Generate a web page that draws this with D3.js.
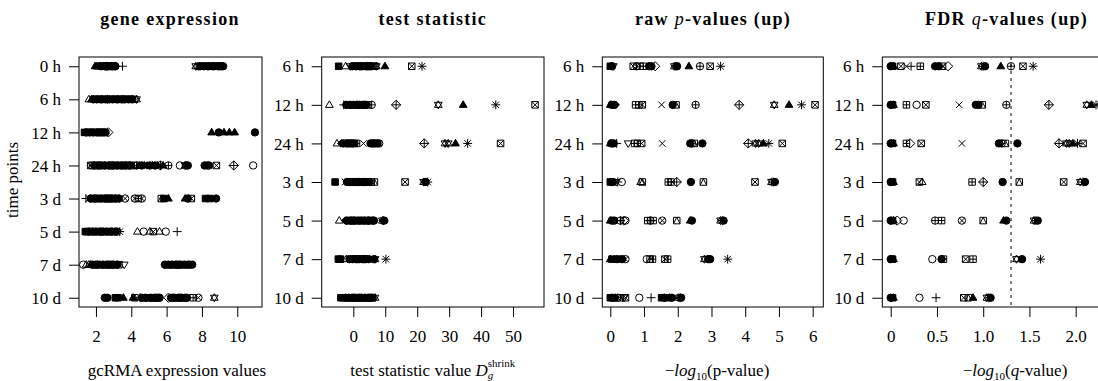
<!DOCTYPE html>
<html>
<head>
<meta charset="utf-8">
<script src="https://cdn.jsdelivr.net/npm/d3@7"></script>
<style>
  body { margin: 0; background: #fff; }
  svg { display: block; }
  text { font-family: "Liberation Serif", "Times New Roman", serif; fill: #000; }
</style>
</head>
<body>
<svg id="chart" width="1098" height="381"></svg>
<script>
// ---- time point labels ----
const timesAll = ["0 h", "6 h", "12 h", "24 h", "3 d", "5 d", "7 d", "10 d"];
const timesCmp = ["6 h", "12 h", "24 h", "3 d", "5 d", "7 d", "10 d"];

// ---- values per time point: [value, plotting symbol (R pch code)] ----
const exprValues = [
  [[1.95,17],[2.05,17],[2.15,2],[2.2,17],[2.3,16],[2.35,15],[2.45,18],[2.5,16],[2.55,19],[2.6,8],[2.65,16],[2.7,11],[2.75,15],[2.8,16],[2.85,18],[2.9,13],[2.95,16],[3.0,7],[3.05,16],[3.1,16],[3.5,3],
   [7.65,11],[7.8,13],[7.9,16],[8.0,15],[8.1,16],[8.2,18],[8.3,16],[8.4,19],[8.5,15],[8.6,16],[8.7,16],[8.8,18],[8.9,16],[9.0,16],[9.1,16],[9.2,16]],
  [[1.6,2],[1.75,17],[1.85,16],[1.95,15],[2.05,16],[2.15,18],[2.25,16],[2.35,19],[2.45,15],[2.55,16],[2.65,8],[2.75,16],[2.85,15],[2.95,16],[3.05,18],[3.15,16],[3.25,16],[3.35,15],[3.45,16],[3.55,13],[3.65,16],[3.75,18],[3.85,16],[3.95,12],[4.05,16],[4.15,7],[4.3,11]],
  [[1.35,15],[1.45,16],[1.55,15],[1.65,16],[1.75,18],[1.85,16],[1.95,15],[2.05,16],[2.15,16],[2.25,19],[2.35,16],[2.45,16],[2.55,16],[2.7,5],
   [8.55,17],[8.95,16],[9.25,17],[9.55,17],[9.85,17],[11.0,16]],
  [[1.7,7],[1.8,12],[1.9,16],[2.0,15],[2.1,16],[2.2,13],[2.3,16],[2.4,18],[2.5,16],[2.6,15],[2.7,8],[2.8,16],[2.9,16],[3.0,19],[3.1,15],[3.2,16],[3.3,18],[3.4,16],[3.5,16],[3.6,11],[3.7,16],[3.8,15],[3.9,16],[4.0,14],[4.15,12],[4.3,10],[4.45,17],[4.6,16],[4.75,17],[4.9,18],[5.05,16],[5.2,17],[5.35,16],[5.5,17],[5.65,9],[5.8,17],[6.1,10],
   [6.75,1],[7.05,11],[7.1,13],[7.2,16],[8.15,16],[8.3,10],[8.4,16],[8.82,7],[9.8,9],[10.9,1]],
  [[1.43,3],[1.6,4],[1.7,16],[1.8,15],[1.9,16],[2.0,8],[2.1,16],[2.2,18],[2.3,16],[2.4,15],[2.5,16],[2.6,19],[2.7,16],[2.8,13],[2.9,16],[3.0,15],[3.1,16],[3.2,7],[3.3,16],[3.65,13],
   [4.2,13],[4.4,12],[4.6,13],[5.7,14],[5.85,15],[6.1,17],[7.05,17],[7.2,16],[7.4,7],[8.2,15],[8.45,15],[8.8,16]],
  [[1.4,15],[1.5,22],[1.6,16],[1.7,15],[1.8,16],[1.9,18],[2.0,16],[2.1,15],[2.2,16],[2.3,19],[2.4,16],[2.5,15],[2.6,16],[2.7,18],[2.8,16],[2.9,16],[3.0,15],[3.1,16],[3.2,13],[3.35,8],
   [4.35,2],[4.7,1],[5.05,2],[5.25,7],[5.6,2],[5.95,1],[6.6,3]],
  [[1.28,1],[1.45,2],[1.6,2],[1.7,17],[1.8,16],[1.9,15],[2.0,16],[2.1,8],[2.2,16],[2.3,18],[2.4,16],[2.5,15],[2.6,16],[2.7,19],[2.8,16],[2.9,13],[3.0,16],[3.1,15],[3.2,16],[3.3,7],[3.6,6],
   [5.9,16],[6.0,15],[6.1,16],[6.2,18],[6.3,16],[6.4,15],[6.5,16],[6.6,19],[6.7,16],[6.8,16],[6.9,15],[7.0,16],[7.1,18],[7.2,16],[7.3,16],[7.45,16]],
  [[2.5,16],[2.65,16],[3.1,15],[3.25,15],[3.55,17],[4.1,17],[4.2,14],[4.5,3],[4.6,16],[4.7,15],[4.8,16],[4.9,18],[5.0,12],[5.1,16],[5.2,15],[5.3,16],[5.4,13],[5.5,16],[5.6,16],
   [6.1,5],[6.25,16],[6.35,13],[6.45,16],[6.55,15],[6.65,16],[6.75,13],[6.85,16],[6.95,12],[7.05,13],[7.15,16],[7.5,12],[7.8,13],[8.7,11]]
];

const statValues = [
  [[-4.6,15],[-2.4,2],[-1.0,6],[-0.3,16],[0.3,15],[0.8,16],[1.3,18],[1.8,16],[2.3,13],[2.8,16],[3.3,15],[3.8,16],[4.3,8],[4.8,16],[5.3,19],[5.8,11],[6.3,7],[6.8,12],[7.2,11],[9.9,17],[18.3,7],[21.5,8]],
  [[-7.5,2],[-3.0,3],[-2.2,16],[-1.6,15],[-1.0,16],[-0.5,18],[0,16],[0.5,15],[1,16],[1.5,19],[2,16],[2.5,15],[3,16],[3.5,13],[4,16],[4.5,12],[5.75,10],[13.4,9],[26.6,11],[34.4,17],[44.6,8],[56.9,7]],
  [[-5.1,2],[-3.8,18],[-3.2,16],[-2.6,15],[-2.0,16],[-1.4,16],[-0.8,19],[-0.2,16],[0.4,15],[1.0,12],[3.2,4],[5.4,16],[6.0,10],[6.5,16],[7.0,16],[7.6,16],[8.1,13],[22.2,9],[28.7,11],[29.7,11],[32.0,17],[35.8,8],[46.1,7]],
  [[-5.7,15],[-2.6,4],[-2.0,16],[-1.5,11],[-1.0,16],[-0.5,15],[0,16],[0.5,18],[1,16],[1.5,19],[2,16],[2.5,15],[3,16],[3.5,13],[4,16],[4.5,12],[5,16],[5.6,14],[6.6,14],[16.2,7],[22.0,11],[22.6,16],[23.3,8]],
  [[-4.4,2],[-2.5,18],[-2.0,16],[-1.5,15],[-1.0,16],[-0.5,16],[0,19],[0.5,16],[1,15],[1.5,16],[2,18],[2.5,16],[3,15],[3.5,16],[4,12],[4.5,16],[5,13],[5.5,15],[6,16],[6.5,16],[9.1,11],[9.4,8],[9.7,16]],
  [[-4.7,15],[-4.0,15],[-2.2,2],[-1.2,16],[-0.7,15],[-0.2,16],[0.3,18],[0.8,16],[1.3,19],[1.8,16],[2.3,15],[2.8,16],[3.3,13],[3.8,16],[4.3,12],[4.7,16],[6.5,16],[6.8,11],[10.2,8]],
  [[-3.9,15],[-3.3,15],[-2.4,16],[-1.9,18],[-1.4,16],[-0.9,15],[-0.4,16],[0.1,19],[0.6,16],[1.1,15],[1.6,16],[2.1,13],[2.6,16],[3.1,15],[3.6,16],[4.1,12],[4.6,16],[5.1,13],[5.6,16],[6.0,16],[6.8,11]]
];

const pValues = [
  [[0,15],[0.02,17],[0.05,16],[0.09,6],[0.68,7],[0.78,13],[0.88,12],[0.98,12],[1.15,16],[1.22,16],[1.33,5],[1.9,11],[1.95,8],[1.98,16],[2.33,17],[2.66,10],[2.96,7],[3.27,8]],
  [[0,17],[0.04,16],[0.08,18],[0.12,16],[0.16,18],[0.75,12],[0.85,12],[0.95,7],[1.52,4],[1.85,16],[1.95,14],[2.53,10],[3.82,9],[4.86,11],[5.3,17],[5.67,8],[6.07,7]],
  [[0,17],[0.03,16],[0.06,18],[0.1,16],[0.19,3],[0.53,6],[0.72,12],[0.8,12],[0.93,7],[1.54,4],[2.37,16],[2.42,10],[2.49,14],[2.73,16],[4.09,9],[4.31,11],[4.4,11],[4.54,17],[4.7,8],[5.1,7]],
  [[0,15],[0.04,16],[0.08,16],[0.18,6],[0.22,3],[0.34,1],[0.9,2],[0.95,14],[1.72,12],[1.8,12],[1.97,9],[2.39,16],[2.76,14],[4.29,7],[4.78,11],[4.83,8],[4.88,16]],
  [[0,17],[0.04,16],[0.08,18],[0.12,16],[0.3,10],[0.3,3],[0.4,5],[0.45,1],[1.11,12],[1.19,10],[1.27,12],[1.54,13],[1.97,14],[2.37,17],[2.42,16],[3.27,11],[3.32,8],[3.36,16]],
  [[0,17],[0.05,15],[0.12,18],[0.2,16],[0.28,18],[0.35,16],[0.45,13],[1.08,1],[1.18,14],[1.25,12],[1.62,7],[1.7,12],[2.79,11],[2.9,16],[2.96,16],[3.48,8]],
  [[0,15],[0.04,16],[0.08,18],[0.14,16],[0.22,13],[0.3,12],[0.41,6],[0.45,7],[0.86,1],[1.21,3],[1.52,15],[1.6,16],[1.68,7],[1.75,17],[1.82,16],[2.02,11],[2.07,8],[2.1,16]]
];

const qValues = [
  [[0,16],[0.01,18],[0.02,15],[0.03,17],[0.11,7],[0.17,4],[0.22,3],[0.32,12],[0.48,16],[0.52,16],[0.56,7],[0.62,5],[0.98,11],[1.0,8],[1.02,16],[1.19,17],[1.3,10],[1.43,7],[1.54,8]],
  [[0,16],[0.01,18],[0.02,15],[0.03,17],[0.17,12],[0.28,1],[0.38,7],[0.74,4],[0.92,16],[0.95,16],[0.99,14],[1.25,10],[1.71,9],[2.12,11],[2.17,17],[2.22,8],[2.27,8],[2.45,7]],
  [[0,16],[0.01,18],[0.02,15],[0.03,17],[0.17,12],[0.21,5],[0.33,7],[0.77,4],[1.17,16],[1.2,10],[1.24,14],[1.37,16],[1.82,9],[1.9,11],[1.93,11],[1.97,17],[2.02,8],[2.08,7]],
  [[0,16],[0.01,18],[0.02,15],[0.03,17],[0.31,7],[0.34,2],[0.88,12],[1.0,9],[1.21,16],[1.39,14],[1.87,7],[2.05,11],[2.08,8],[2.1,16]],
  [[0,16],[0.01,18],[0.02,15],[0.03,17],[0.07,5],[0.14,1],[0.48,10],[0.55,12],[0.77,13],[1.0,14],[1.22,17],[1.25,16],[1.55,11],[1.57,8],[1.59,16]],
  [[0,16],[0.01,18],[0.02,15],[0.03,17],[0.45,1],[0.55,16],[0.57,12],[0.81,7],[0.89,12],[1.36,11],[1.42,16],[1.62,8]],
  [[0,16],[0.01,18],[0.02,15],[0.03,17],[0.31,1],[0.49,3],[0.79,7],[0.84,14],[0.89,17],[1.04,11],[1.06,8],[1.08,16]]
];

// ---- axis ticks ----
const exprTicks = [2, 4, 6, 8, 10];
const statTicks = [0, 10, 20, 30, 40, 50];
const pTicks = [0, 1, 2, 3, 4, 5, 6];
const qTicks = [0, 0.5, 1, 1.5, 2];
const qThreshold = 1.30103;   // -log10(0.05)

// ---- layout ----
const TOP = 57, BOTTOM = 307, R = 3.7;
const svg = d3.select("#chart");

const panels = [
  { data: exprValues, labels: timesAll, ticks: exprTicks, fmt: d3.format("d"),
    domain: [1.04, 11.40], range: [79, 262], titleX: 170, xlabX: 177,
    title: [{ t: "gene expression" }],
    xlab: [{ t: "gcRMA expression values" }] },
  { data: statValues, labels: timesCmp, ticks: statTicks, fmt: d3.format("d"),
    domain: [-9.9, 59.7], range: [321.7, 544], titleX: 432.8, xlabX: 432.8,
    title: [{ t: "test statistic" }],
    xlab: [{ t: "test statistic value " }, { t: "D", it: true },
           { t: "g", it: true, size: 11, dy: 3 }, { t: "shrink", size: 11, dx: -5.5, dy: -12 }] },
  { data: pValues, labels: timesCmp, ticks: pTicks, fmt: d3.format("d"),
    domain: [-0.237, 6.315], range: [602.3, 823.3], titleX: 713, xlabX: 717,
    title: [{ t: "raw " }, { t: "p", it: true, light: true }, { t: "-values (up)" }],
    xlab: [{ t: "\u2212" }, { t: "log", it: true }, { t: "10", size: 11, dy: 4 }, { t: "(p-value)", dy: -4 }] },
  { data: qValues, labels: timesCmp, ticks: qTicks, fmt: d => d === 0 ? "0" : d3.format(".1f")(d),
    domain: [-0.091, 2.598], range: [882.3, 1131], titleX: 1006.5, xlabX: 1015,
    title: [{ t: "FDR " }, { t: "q", it: true, light: true }, { t: "-values (up)" }],
    xlab: [{ t: "\u2212" }, { t: "log", it: true }, { t: "10", size: 11, dy: 4 }, { t: "(" , dy: -4 }, { t: "q", it: true }, { t: "-value)" }],
    threshold: qThreshold }
];

// R plotting symbols as path outlines centred on (0,0)
function pchShape(p, r) {
  const a = r * 0.88, t = r * 1.1, dd = r * 1.25, c = r * 0.707;
  const sq = `M${-a},${-a}H${a}V${a}H${-a}Z`;
  const circ = `M${r},0A${r},${r} 0 1,1 ${-r},0A${r},${r} 0 1,1 ${r},0Z`;
  const triU = `M0,${-t}L${t * 0.95},${t * 0.62}L${-t * 0.95},${t * 0.62}Z`;
  const triD = `M0,${t}L${t * 0.95},${-t * 0.62}L${-t * 0.95},${-t * 0.62}Z`;
  const dia = `M0,${-dd}L${dd},0L0,${dd}L${-dd},0Z`;
  const plusBig = `M${-r * 1.2},0H${r * 1.2}M0,${-r * 1.2}V${r * 1.2}`;
  const xBig = `M${-a},${-a}L${a},${a}M${-a},${a}L${a},${-a}`;
  switch (p) {
    case 0: return [sq, false];
    case 1: return [circ, false];
    case 2: return [triU, false];
    case 3: return [plusBig, false];
    case 4: return [xBig, false];
    case 5: return [dia, false];
    case 6: return [triD, false];
    case 7: return [sq + xBig, false];
    case 8: return [plusBig + xBig, false];
    case 9: return [dia + `M${-dd},0H${dd}M0,${-dd}V${dd}`, false];
    case 10: return [circ + `M${-r},0H${r}M0,${-r}V${r}`, false];
    case 11: return [triU + triD, false];
    case 12: return [sq + `M${-a},0H${a}M0,${-a}V${a}`, false];
    case 13: return [circ + `M${-c},${-c}L${c},${c}M${-c},${c}L${c},${-c}`, false];
    case 14: return [sq + `M${-a},${a}L0,${-a}L${a},${a}`, false];
    case 15: case 22: return [sq, true];
    case 16: case 19: case 21: return [circ, true];
    case 17: case 24: return [triU, true];
    case 18: return [`M0,${-r}L${r},0L0,${r}L${-r},0Z`, true];
    case 20: { const s = r * 0.65; return [`M${s},0A${s},${s} 0 1,1 ${-s},0A${s},${s} 0 1,1 ${s},0Z`, true]; }
    case 23: return [dia, true];
    case 25: return [triD, true];
  }
  return [circ, false];
}

// text built from styled pieces (italic, scripts)
function richText(parent, parts, x, y, opts) {
  const txt = parent.append("text")
    .attr("x", x).attr("y", y)
    .attr("text-anchor", "middle")
    .style("font-size", opts.size + "px")
    .style("font-weight", opts.bold ? "bold" : "normal");
  if (opts.spacing) txt.style("letter-spacing", opts.spacing + "px");
  parts.forEach(pt => {
    const ts = txt.append("tspan").text(pt.t);
    if (pt.it) ts.style("font-style", "italic");
    if (pt.light) ts.style("font-weight", "normal");
    if (pt.size) ts.style("font-size", pt.size + "px");
    if (pt.dy) ts.attr("dy", pt.dy);
    if (pt.dx) ts.attr("dx", pt.dx);
  });
  return txt;
}

panels.forEach(p => {
  const g = svg.append("g");
  const n = p.labels.length;
  const x = d3.scaleLinear().domain(p.domain).range(p.range);
  const y = d3.scaleLinear().domain([1 - 0.04 * (n - 1), n + 0.04 * (n - 1)]).range([TOP, BOTTOM]);

  // reference line
  if (p.threshold !== undefined) {
    g.append("line")
      .attr("x1", x(p.threshold)).attr("x2", x(p.threshold))
      .attr("y1", TOP).attr("y2", BOTTOM)
      .attr("stroke", "#000").attr("stroke-width", 1)
      .attr("stroke-dasharray", "3,4");
  }

  // points, one strip per time point
  p.data.forEach((row, i) => {
    g.append("g").selectAll("path").data(row).join("path")
      .attr("transform", d => `translate(${x(d[0])},${y(i + 1)})`)
      .attr("d", d => pchShape(d[1], R)[0])
      .attr("fill", d => pchShape(d[1], R)[1] ? "#000" : "none")
      .attr("stroke", "#000")
      .attr("stroke-width", 1);
  });

  // plot frame
  g.append("rect")
    .attr("x", p.range[0]).attr("y", TOP)
    .attr("width", p.range[1] - p.range[0]).attr("height", BOTTOM - TOP)
    .attr("fill", "none").attr("stroke", "#000").attr("stroke-width", 1);

  // x axis
  const xa = g.append("g").attr("transform", `translate(0,${BOTTOM})`)
    .call(d3.axisBottom(x).tickValues(p.ticks).tickFormat(p.fmt).tickSize(10).tickSizeOuter(0));
  xa.select(".domain").remove();
  xa.selectAll(".tick line").attr("stroke", "#000");
  xa.selectAll(".tick text").attr("y", 35).attr("dy", null)
    .style("font-size", "17px").style("font-family", "Liberation Serif, serif").attr("fill", "#000");

  // y axis
  const ya = g.append("g").attr("transform", `translate(${p.range[0]},0)`)
    .call(d3.axisLeft(y).tickValues(d3.range(1, n + 1)).tickFormat(i => p.labels[i - 1]).tickSize(10).tickPadding(8));
  ya.select(".domain").remove();
  ya.selectAll(".tick line").attr("stroke", "#000");
  ya.selectAll(".tick text").attr("dy", "0.33em")
    .style("font-size", "17px").style("font-family", "Liberation Serif, serif").attr("fill", "#000");

  // titles and axis labels
  richText(svg, p.title, p.titleX, 25, { size: 18, bold: true, spacing: 1.3 });
  richText(svg, p.xlab, p.xlabX, 376, { size: 17 });
});

// y axis title
svg.append("text")
  .attr("transform", "translate(18,180) rotate(-90)")
  .attr("text-anchor", "middle")
  .style("font-size", "17px")
  .text("time points");
</script>
</body>
</html>
